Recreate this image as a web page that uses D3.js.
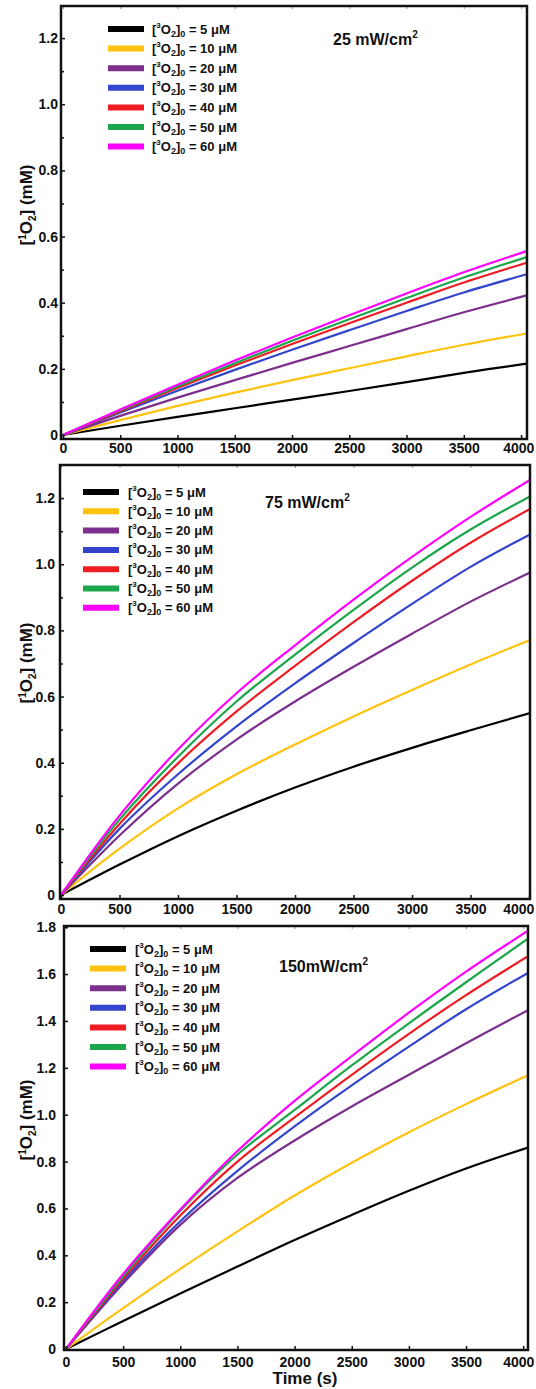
<!DOCTYPE html>
<html>
<head>
<meta charset="utf-8">
<script src="https://cdn.jsdelivr.net/npm/d3@7"></script>
<style>
  body { margin: 0; background: #fff; }
  svg text { font-family: "Liberation Sans", Arial, sans-serif; font-weight: bold; fill: #111; }
</style>
</head>
<body>
<script>
// initial [3O2]0 values (uM), one curve each
var conc = ["5", "10", "20", "30", "40", "50", "60"];
var colors = ["#000000", "#ffc20e", "#7d2f8e", "#3345cc", "#ee1d23", "#1ca64b", "#ff00ff"];

var xTicks = [0, 500, 1000, 1500, 2000, 2500, 3000, 3500, 4000];
var yTicksLow = [0, 0.2, 0.4, 0.6, 0.8, 1.0, 1.2];
var yMinorLow = [0.1, 0.3, 0.5, 0.7, 0.9, 1.1];
var yTicksHigh = [0, 0.2, 0.4, 0.6, 0.8, 1.0, 1.2, 1.4, 1.6, 1.8];

// 25 mW/cm2
var time25 = [0, 500, 1000, 1500, 2000, 2500, 3000, 3500, 4050];
var singlet25 = [
  [0, 0.028, 0.055, 0.081, 0.107, 0.133, 0.160, 0.188, 0.216],
  [0, 0.045, 0.088, 0.128, 0.166, 0.202, 0.238, 0.273, 0.307],
  [0, 0.058, 0.113, 0.166, 0.218, 0.269, 0.320, 0.371, 0.422],
  [0, 0.068, 0.134, 0.197, 0.258, 0.317, 0.375, 0.431, 0.486],
  [0, 0.072, 0.142, 0.210, 0.275, 0.338, 0.400, 0.461, 0.521],
  [0, 0.075, 0.147, 0.217, 0.285, 0.350, 0.414, 0.476, 0.538],
  [0, 0.077, 0.152, 0.225, 0.295, 0.362, 0.428, 0.492, 0.556]
];

// 75 mW/cm2
var time75 = [0, 500, 1000, 1500, 2000, 2500, 3000, 3500, 4008];
var singlet75 = [
  [0, 0.092, 0.178, 0.255, 0.325, 0.388, 0.445, 0.498, 0.550],
  [0, 0.140, 0.262, 0.365, 0.455, 0.540, 0.620, 0.697, 0.771],
  [0, 0.180, 0.337, 0.470, 0.585, 0.690, 0.790, 0.887, 0.975],
  [0, 0.200, 0.365, 0.510, 0.640, 0.762, 0.880, 0.992, 1.090],
  [0, 0.215, 0.398, 0.555, 0.693, 0.825, 0.950, 1.065, 1.167],
  [0, 0.228, 0.418, 0.585, 0.727, 0.862, 0.990, 1.105, 1.205],
  [0, 0.240, 0.440, 0.610, 0.755, 0.893, 1.022, 1.143, 1.255]
];

// 150 mW/cm2
var time150 = [0, 500, 1000, 1500, 2000, 2500, 3000, 3500, 4042];
var singlet150 = [
  [0, 0.120, 0.237, 0.352, 0.465, 0.572, 0.675, 0.770, 0.860],
  [0, 0.175, 0.342, 0.502, 0.655, 0.795, 0.925, 1.045, 1.168],
  [0, 0.280, 0.530, 0.730, 0.890, 1.035, 1.170, 1.305, 1.446],
  [0, 0.290, 0.545, 0.760, 0.950, 1.125, 1.290, 1.450, 1.605],
  [0, 0.300, 0.570, 0.800, 0.988, 1.170, 1.345, 1.510, 1.676],
  [0, 0.310, 0.590, 0.830, 1.020, 1.210, 1.390, 1.565, 1.751],
  [0, 0.320, 0.595, 0.845, 1.059, 1.250, 1.435, 1.610, 1.785]
];

var panels = [
  { title: "25 mW/cm", time: time25, data: singlet25,
    box: {l: 61, t: 6, r: 527, b: 439}, xDom: [-17.5, 4052], yDom: [-0.012, 1.297],
    yTicks: yTicksLow, yMinor: yMinorLow, xPad: 4, yPad: 3,
    legend: {x: 108, y: 29, dy: 19.6, tx: 152}, titleAt: [333, 45], ylabY: 205 },
  { title: "75 mW/cm", time: time75, data: singlet75,
    box: {l: 60, t: 465, r: 530, b: 899}, xDom: [-8.5, 4008], yDom: [-0.012, 1.3],
    yTicks: yTicksLow, yMinor: yMinorLow, xPad: 5, yPad: 5,
    legend: {x: 83, y: 492, dy: 19.3, tx: 128}, titleAt: [265, 508], ylabY: 663 },
  { title: "150mW/cm", time: time150, data: singlet150,
    box: {l: 64, t: 926, r: 528, b: 1350}, xDom: [-17.5, 4042], yDom: [-0.004, 1.805],
    yTicks: yTicksHigh, yMinor: [], xPad: 7, yPad: 8,
    legend: {x: 90, y: 949, dy: 19.6, tx: 135}, titleAt: [279, 972], ylabY: 1120 }
];

var width = 536;
var height = 1389;
var svg = d3.select('body').append('svg')
  .attr('width', width)
  .attr('height', height);

var fmtY = function(d){ return d === 0 ? '0' : d3.format('.1f')(d); };

function styleAxis(a){
  a.select('.domain').remove();
  a.attr('font-size', 14)
   .attr('font-family', '"Liberation Sans", Arial, sans-serif')
   .attr('font-weight', 'bold');
  a.selectAll('line').attr('stroke', '#111').attr('stroke-width', 1.5);
}

panels.forEach(function(p, pi){
  var x = d3.scaleLinear().domain(p.xDom).range([p.box.l, p.box.r]);
  var y = d3.scaleLinear().domain(p.yDom).range([p.box.b, p.box.t]);
  var g = svg.append('g');

  svg.append('clipPath').attr('id', 'clip' + pi)
    .append('rect')
    .attr('x', p.box.l).attr('y', p.box.t)
    .attr('width', p.box.r - p.box.l).attr('height', p.box.b - p.box.t);

  var line = d3.line()
    .x(function(d){ return x(d[0]); })
    .y(function(d){ return y(d[1]); })
    .curve(d3.curveCatmullRom.alpha(0.5));

  p.data.forEach(function(vals, i){
    g.append('path')
      .datum(p.time.map(function(t, j){ return [t, vals[j]]; }))
      .attr('d', line)
      .attr('fill', 'none')
      .attr('stroke', colors[i])
      .attr('stroke-width', 2.2)
      .attr('clip-path', 'url(#clip' + pi + ')');
  });

  // axes, ticks pointing inside
  var xa = g.append('g')
    .attr('transform', 'translate(0,' + p.box.b + ')')
    .call(d3.axisBottom(x).tickValues(xTicks).tickSize(-4).tickPadding(p.xPad).tickFormat(d3.format('d')))
    .call(styleAxis);
  // keep the last label inside the page
  xa.selectAll('.tick text').each(function(){
    var b = this.getBBox();
    var right = x(d3.select(this.parentNode).datum()) + b.x + b.width;
    if (right > width - 2) d3.select(this).attr('dx', (width - 2 - right) + 'px');
  });

  g.append('g')
    .attr('transform', 'translate(0,' + p.box.t + ')')
    .call(d3.axisTop(x).tickValues(xTicks.filter(function(t){ return x(t) < p.box.r - 2; })).tickSize(-3).tickFormat(''))
    .call(styleAxis)
    .selectAll('line').attr('stroke', '#999').attr('stroke-width', 1);

  g.append('g')
    .attr('transform', 'translate(' + p.box.l + ',0)')
    .call(d3.axisLeft(y).tickValues(p.yTicks).tickSize(-4).tickPadding(p.yPad).tickFormat(fmtY))
    .call(styleAxis);

  g.append('g')
    .attr('transform', 'translate(' + p.box.l + ',0)')
    .call(d3.axisLeft(y).tickValues(p.yMinor).tickSize(-3).tickFormat(''))
    .call(styleAxis);

  // frame
  g.append('rect')
    .attr('x', p.box.l).attr('y', p.box.t)
    .attr('width', p.box.r - p.box.l).attr('height', p.box.b - p.box.t)
    .attr('fill', 'none')
    .attr('stroke', '#111')
    .attr('stroke-width', 2.5);

  // legend
  conc.forEach(function(c, i){
    var ly = p.legend.y + i * p.legend.dy;
    g.append('line')
      .attr('x1', p.legend.x).attr('x2', p.legend.x + 36)
      .attr('y1', ly).attr('y2', ly)
      .attr('stroke', colors[i])
      .attr('stroke-width', 6);
    var t = g.append('text')
      .attr('x', p.legend.tx).attr('y', ly + 4.5)
      .attr('font-size', 13);
    t.append('tspan').text('[');
    t.append('tspan').attr('font-size', 8).attr('dy', -6).text('3');
    t.append('tspan').attr('dy', 6).text('O');
    t.append('tspan').attr('font-size', 9).attr('dy', 3).text('2');
    t.append('tspan').attr('dy', -3).text(']');
    t.append('tspan').attr('font-size', 9).attr('dy', 3).text('0');
    t.append('tspan').attr('dy', -3).text(' = ' + c + ' \u03BCM');
  });

  // power density title
  var tt = g.append('text')
    .attr('x', p.titleAt[0]).attr('y', p.titleAt[1])
    .attr('font-size', 16);
  tt.append('tspan').text(p.title);
  tt.append('tspan').attr('font-size', 10).attr('dy', -7).text('2');

  // y label
  var yl = g.append('text')
    .attr('transform', 'translate(26,' + p.ylabY + ') rotate(-90)')
    .attr('text-anchor', 'middle')
    .attr('dy', 6)
    .attr('font-size', 17);
  yl.append('tspan').text('[');
  yl.append('tspan').attr('font-size', 10).attr('dy', -6).text('1');
  yl.append('tspan').attr('dy', 6).text('O');
  yl.append('tspan').attr('font-size', 10).attr('dy', 4).text('2');
  yl.append('tspan').attr('dy', -4).text('] (mM)');
});

svg.append('text')
  .attr('x', 305).attr('y', 1384)
  .attr('text-anchor', 'middle')
  .attr('font-size', 17)
  .text('Time (s)');
</script>
</body>
</html>
